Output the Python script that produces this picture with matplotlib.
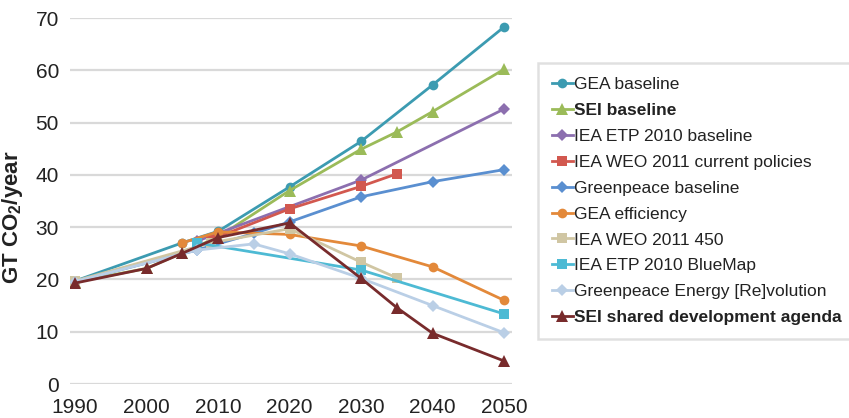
import matplotlib.pyplot as plt

plt.rcParams['font.family'] = ['Liberation Sans', 'DejaVu Sans']
plt.rcParams['mathtext.fontset'] = 'custom'
plt.rcParams['mathtext.rm'] = 'Liberation Sans'
plt.rcParams['mathtext.bf'] = 'Liberation Sans:bold'

# emissions pathways, GT CO2 / year
gea_base_years = [1990, 2005, 2010, 2020, 2030, 2040, 2050]
gea_base = [19.7, 27.0, 29.2, 37.7, 46.4, 57.2, 68.3]

sei_base_years = [1990, 2000, 2005, 2010, 2020, 2030, 2035, 2040, 2050]
sei_base = [19.5, 22.1, 25.1, 28.1, 37.0, 44.9, 48.2, 52.1, 60.2]

etp_base_years = [2007, 2030, 2050]
etp_base = [27.3, 39.0, 52.6]

weo_cp_years = [2009, 2020, 2030, 2035]
weo_cp = [27.6, 33.5, 37.8, 40.2]

gp_base_years = [1990, 2007, 2015, 2020, 2030, 2040, 2050]
gp_base = [19.6, 25.6, 28.8, 31.0, 35.8, 38.7, 41.0]

gea_eff_years = [2005, 2010, 2020, 2030, 2040, 2050]
gea_eff = [27.0, 29.1, 28.6, 26.4, 22.4, 16.0]

weo_450_years = [1990, 2009, 2020, 2030, 2035]
weo_450 = [19.7, 27.0, 29.7, 23.3, 20.3]

bluemap_years = [2007, 2030, 2050]
bluemap = [27.0, 21.8, 13.4]

gp_rev_years = [1990, 2007, 2015, 2020, 2030, 2040, 2050]
gp_rev = [19.6, 25.6, 26.8, 24.9, 20.2, 15.0, 9.8]

sei_sda_years = [1990, 2000, 2005, 2010, 2020, 2030, 2035, 2040, 2050]
sei_sda = [19.3, 22.1, 25.0, 28.0, 30.8, 20.2, 14.6, 9.7, 4.4]

series = [
    ('GEA baseline', gea_base_years, gea_base, '#3C9BB1', 'o'),
    ('SEI baseline', sei_base_years, sei_base, '#9BBB59', '^'),
    ('IEA ETP 2010 baseline', etp_base_years, etp_base, '#8C6FAF', 'D'),
    ('IEA WEO 2011 current policies', weo_cp_years, weo_cp, '#D2584F', 's'),
    ('Greenpeace baseline', gp_base_years, gp_base, '#5A8FD0', 'D'),
    ('GEA efficiency', gea_eff_years, gea_eff, '#E3893A', 'o'),
    ('IEA WEO 2011 450', weo_450_years, weo_450, '#D0C6A3', 's'),
    ('IEA ETP 2010 BlueMap', bluemap_years, bluemap, '#4DBAD4', 's'),
    ('Greenpeace Energy [Re]volution', gp_rev_years, gp_rev, '#BACFE6', 'D'),
    ('SEI shared development agenda', sei_sda_years, sei_sda, '#782B2C', '^'),
]

fig = plt.figure(figsize=(8.49, 4.18), dpi=100)
ax = fig.add_axes([70 / 849, 1 - 384 / 418, 442 / 849, 366 / 418])

for label, yrs, vals, color, mk in series:
    ms = 7 if mk == 'o' else (8.5 if mk == '^' else (6.5 if mk == 's' else 6))
    ax.plot(yrs, vals, color=color, marker=mk, markersize=ms, linewidth=2,
            markeredgewidth=0, label=label)

ax.set_xlim(1989.3, 2051.1)
ax.set_ylim(0, 70)
ax.set_xticks(range(1990, 2051, 10))
ax.set_yticks(range(0, 71, 10))
ax.yaxis.grid(True, color='#D9D9D9', linewidth=1.6)
ax.set_axisbelow(True)
for s in ax.spines.values():
    s.set_visible(False)
ax.tick_params(length=0, labelsize=15, colors='#222222')
ax.tick_params(axis='y', pad=8)
ax.tick_params(axis='x', pad=10)
ax.set_ylabel(r'GT CO$_\mathbf{2}$/year', fontsize=16, fontweight='bold',
              color='#222222')
ax.yaxis.set_label_coords(-0.102, 0.456)

leg = fig.legend(loc='upper left', bbox_to_anchor=(538 / 849, 1 - 63 / 418),
                 frameon=True, fancybox=False, fontsize=12.5,
                 handlelength=1.2, handletextpad=0.1, labelspacing=0.62,
                 borderpad=0.8, borderaxespad=0)
leg.get_frame().set_edgecolor('#D9D9D9')
leg.get_frame().set_linewidth(1.8)
for t in leg.get_texts():
    t.set_color('#222222')
    if t.get_text().startswith('SEI'):
        t.set_fontweight('bold')

plt.savefig('out.png', dpi=100)
plt.close()
